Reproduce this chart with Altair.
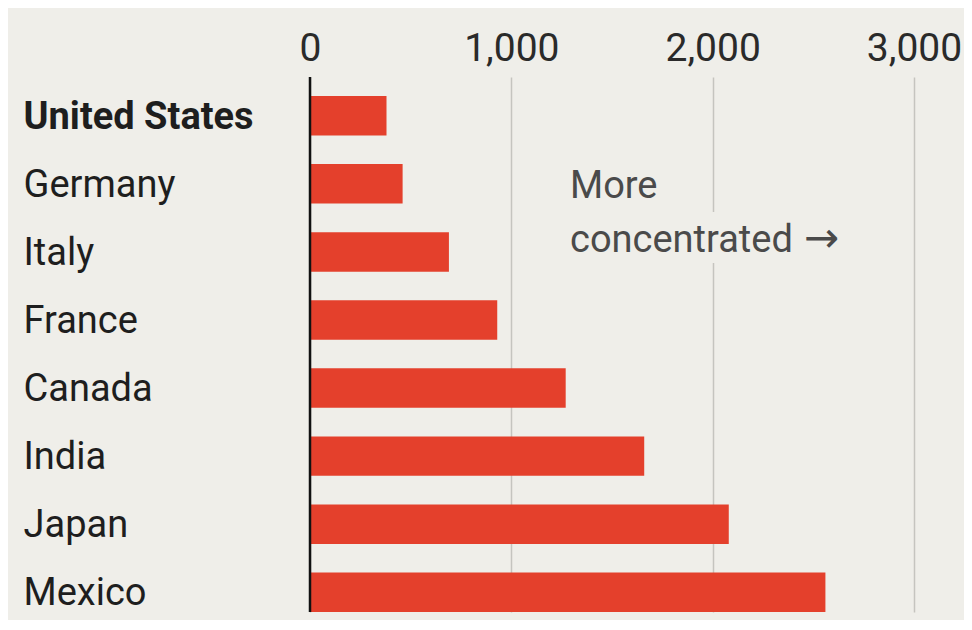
import altair as alt
import pandas as pd

countries = ["United States", "Germany", "Italy", "France", "Canada", "India", "Japan", "Mexico"]
values = [380, 460, 690, 930, 1270, 1660, 2080, 2560]
x_ticks = [0, 1000, 2000, 3000]
note_lines = ["More", "concentrated"]
note_arrow = "→"

BG = "#efeee9"
RED = "#e4402c"
FONT = "Roboto"

df = pd.DataFrame({"country": countries, "value": values})

x_enc = alt.X(
    "value:Q",
    title=None,
    scale=alt.Scale(domain=[0, 3000], nice=False),
    axis=alt.Axis(
        orient="top", values=x_ticks, format=",d", domain=False, ticks=False, tickSize=0,
        labelPadding=9, labelFont=FONT, labelFontSize=39, labelColor="#2a2a2a",
        labelFlush=False, grid=True, gridColor="#c5c4bf", gridWidth=1.5,
    ),
)
y_enc = alt.Y(
    "country:N",
    sort=countries,
    title=None,
    scale=alt.Scale(paddingInner=0.42, paddingOuter=0.14, align=1),
    axis=alt.Axis(
        orient="left", domain=False, ticks=False, tickSize=0, labelAlign="left",
        labelPadding=287, labelLimit=400, labelFont=FONT, labelFontSize=38,
        labelColor="#1e1e1e", labelOffset=2,
        labelFontWeight=alt.condition("datum.value == 'United States'", alt.value("bold"), alt.value("normal")),
    ),
)

bars = alt.Chart(df).mark_bar(color=RED).encode(x=x_enc, y=y_enc)

zero = alt.Chart(pd.DataFrame({"z": [0]})).mark_rule(color="#111111", strokeWidth=2.5).encode(
    x=alt.X("z:Q")
)

note_df = pd.DataFrame({"a": [0]})
note_bg = alt.Chart(note_df).mark_rect(color=BG).encode(
    x=alt.value(250), x2=alt.value(540), y=alt.value(135), y2=alt.value(186)
)
note = alt.Chart(note_df).mark_text(
    align="left", baseline="alphabetic", font=FONT, fontSize=38, color="#4a4a4a", lineHeight=54
).encode(x=alt.value(260), y=alt.value(121), text=alt.value(note_lines))
arrow = alt.Chart(note_df).mark_text(
    align="left", baseline="middle", font="DejaVu Sans", fontSize=42, color="#4a4a4a"
).encode(x=alt.value(494), y=alt.value(162), text=alt.value(note_arrow))

chart = (
    alt.layer(bars, note_bg, note, arrow, zero)
    .properties(
        width=604,
        height=535,
        background=BG,
        padding={"left": 302, "top": 69, "right": 50, "bottom": 8},
        autosize=alt.AutoSizeParams(type="none"),
    )
    .configure_view(stroke=None)
)

chart.save("out.html", embed_options={"renderer": "svg", "actions": False})
